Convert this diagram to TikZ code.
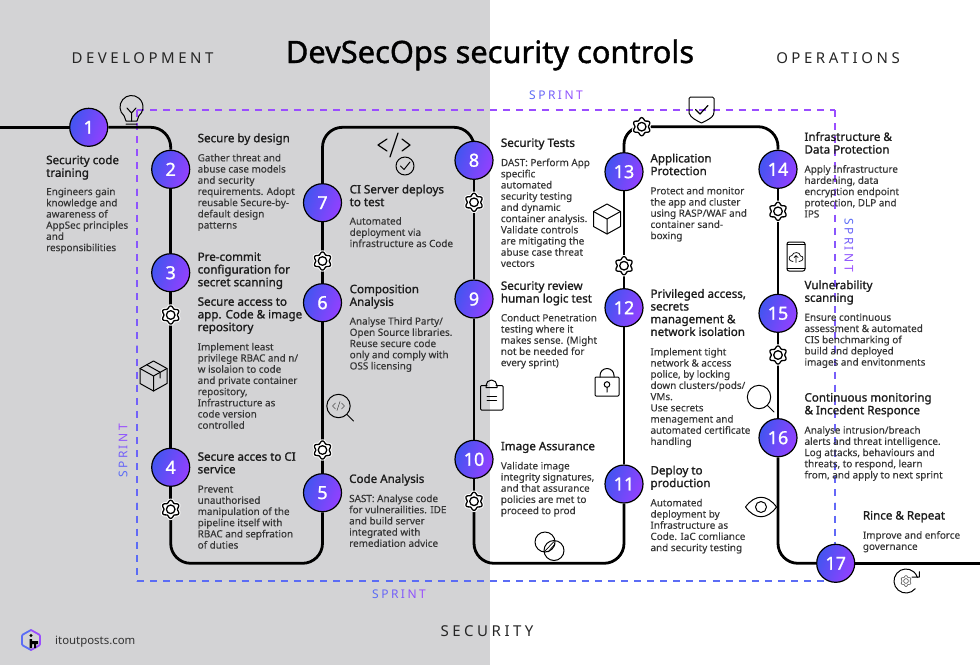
\documentclass[tikz,border=0pt]{standalone}
\usepackage{fontspec}
\setmainfont{Noto Sans}
\newfontfamily\spaced[LetterSpace=23.5]{Noto Sans}
\newfontfamily\headfont[FakeBold=1.3]{Noto Sans}
\newfontfamily\numfont[FakeBold=1.2]{Noto Sans}
\newfontfamily\bodyfont[FakeBold=.25]{Noto Sans}
\usetikzlibrary{backgrounds,calc}
\definecolor{panelgrey}{HTML}{D3D3D5}
\definecolor{stepblue}{HTML}{4255F0}
\definecolor{steppurple}{HTML}{9440FF}
\definecolor{sprintblue}{HTML}{5B6CF5}
\definecolor{sprintpurple}{HTML}{9A4DFF}
\definecolor{headink}{HTML}{1C1C1C}
\definecolor{bodyink}{HTML}{363636}
\newcommand{\sprintgap}{\kern2.5pt}
\newcommand{\sprintword}{\textcolor{sprintblue}{S}\sprintgap\textcolor{sprintblue!80!sprintpurple}{P}\sprintgap\textcolor{sprintblue!60!sprintpurple}{R}\sprintgap\textcolor{sprintblue!40!sprintpurple}{I}\sprintgap\textcolor{sprintblue!20!sprintpurple}{N}\sprintgap\textcolor{sprintpurple}{T}}
\newcommand{\gearpath}{plot[smooth cycle,samples=48,domain=0:352.5] (\x:{7.9-1.2*cos(6*\x)})}
\tikzset{
	pipe/.style={line width=2.8pt,black,rounded corners=20pt},
	sprintline/.style={line width=1.3pt,dash pattern=on 7pt off 6.08pt},
	stepnode/.style={circle,draw=black,line width=1.2pt,minimum size=38pt,inner sep=0pt,left color=stepblue,right color=steppurple,shading angle=70,text=white,font=\fontsize{18}{20}\numfont},
	gearnode/.style={circle,minimum size=17pt,inner sep=0pt},
	head/.style={anchor=north west,inner sep=0pt,align=left,text=headink,yshift=8.9pt,font=\fontsize{11.6}{12.7}\headfont,execute at begin node=\strut},
	body/.style={anchor=north west,inner sep=0pt,align=left,text=bodyink,yshift=7.4pt,font=\fontsize{9.9}{11.2}\bodyfont,execute at begin node=\strut},
	zone/.style={text=black!85,font=\fontsize{15}{18}\spaced},
	sprintlabel/.style={font=\fontsize{12}{14}\selectfont},
	gearicon/.pic={
		\draw[white,line width=3.4pt] \gearpath;
		\draw[black,line width=1.3pt,fill=white] \gearpath;
		\draw[black,line width=1.3pt] (0,0) circle[radius=4.3];
	},
	bulbicon/.pic={
		\draw (130:11.5) arc[start angle=130,delta angle=280,radius=11.5] -- (5.5,14) -- (-5.5,14) -- cycle;
		\draw (-5.5,17) -- (5.5,17) (0,14) -- (0,6) -- (-4.5,1) (0,6) -- (4.5,1);
	},
	cubeicon/.pic={
		\draw (0,-15) -- (13.5,-7.5) -- (13.5,7.5) -- (0,15) -- (-13.5,7.5) -- (-13.5,-7.5) -- cycle;
		\draw (-13.5,-7.5) -- (0,0) -- (13.5,-7.5) (0,0) -- (0,15);
	},
	tapeicon/.pic={
		\draw (-6.7,-11.2) -- (6.7,-3.7) -- (6.7,2);
	},
	codeicon/.pic={
		\draw[line width=1.2pt] (-7,-6) -- (-16,0) -- (-7,6) (8,-6) -- (16,0) -- (8,6) (4,-12) -- (-4,12);
		\draw (11,21) circle[radius=9] (6.5,21) -- (10,24.5) -- (16,17);
	},
	lensicon/.pic={
		\draw (0,0) circle[radius=11.7] (8.3,8.3) -- (15,15);
	},
	tinycode/.pic={
		\draw[line width=.6pt,black!70] (-3,-3) -- (-6,0) -- (-3,3) (3,-3) -- (6,0) -- (3,3) (1.5,-4.5) -- (-1.5,4.5);
	},
	clipicon/.pic={
		\draw[rounded corners=1pt] (-4.5,-11.5) -- (-11,-11.5) -- (-11,13) -- (11.5,13) -- (11.5,-11.5) -- (4.5,-11.5);
		\draw (-5.5,-9.5) -- (-5.5,-11.5) arc[start angle=180,delta angle=180,radius=5.5] -- (5.5,-9.5) -- cycle;
		\draw (-4.5,-1) -- (5,-1) (-4.5,3) -- (5,3);
	},
	ringsicon/.pic={
		\draw (0,0) circle[radius=10] (9,8.5) circle[radius=10];
		\draw[line width=.7pt] (-.5,9.5) -- (9,-.5) (3,10) -- (10,2);
	},
	lockicon/.pic={
		\draw[rounded corners=1pt] (-12,-9.5) rectangle (12,9.5);
		\draw (-7,-9.5) -- (-7,-11) arc[start angle=180,delta angle=180,radius=7] -- (7,-9.5);
		\draw (0,-2) circle[radius=2.8] (0,.8) -- (0,5.5);
	},
	shieldicon/.pic={
		\draw[rounded corners=1.5pt] (-12.5,-13) -- (12.5,-13) -- (12.5,3) [sharp corners] .. controls (11,8) and (4,11) .. (0,13) .. controls (-4,11) and (-11,8) .. (-12.5,3) [rounded corners=1.5pt] -- cycle;
		\draw[line width=1.2pt] (-6,-.5) -- (-1.5,4) -- (6.5,-4.5);
	},
	phoneicon/.pic={
		\draw[rounded corners=2pt] (-9,-14.5) rectangle (9,14.5);
		\draw (-9,-12) -- (9,-12) (-9,12) -- (9,12);
		\draw[line width=.7pt] (-3,5) .. controls (-8,5) and (-8,-1) .. (-4,-1) .. controls (-3,-5) and (4,-5) .. (4.5,-.5) .. controls (8,-1) and (8,5) .. (3,5) (0,6) -- (0,-1) (-2,1) -- (0,-1) -- (2,1);
	},
	eyeicon/.pic={
		\draw (-15.5,0) .. controls (-6,-13) and (6,-13) .. (15.5,0) .. controls (6,13) and (-6,13) .. (-15.5,0) -- cycle;
		\draw (0,0) circle[radius=5.5];
	},
	cycleicon/.pic={
		\draw (40:12) arc[start angle=40,delta angle=302,radius=12] -- (13.3,-4) -- (13.3,-9.3) (13.3,-4) -- (6,-4);
		\draw[line width=.6pt,black!70,scale=.6] \gearpath;
		\draw[line width=.6pt,black!70] (0,0) circle[radius=2.4];
	},
}
\begin{document}
\begin{tikzpicture}[x=1pt,y=-1pt,line join=round,line cap=round]
	\useasboundingbox (0,0) rectangle (980,665);
	
	\coordinate (in) at (0,127.3);
	\coordinate (out) at (980,563.3);
	\coordinate (tl) at (137,110);
	\coordinate (tr) at (835,110);
	\coordinate (bl) at (137,581);
	\coordinate (br) at (835,581);
	\foreach \n/\gx/\gy in {1/88.7/127.3,2/170.7/169.3,3/170.7/272.7,4/170.7/467.3,5/322.5/492.7,6/322.5/302.7,7/322.5/202.7,8/474/160.3,9/474/299,10/474/459.3,11/624/484,12/624/307.7,13/624/171.7,14/778/169.3,15/778/313.3,16/778/437.7,17/835.7/563.3}
		\node[stepnode] (s\n) at (\gx,\gy) {\n};
	\foreach \n/\gx/\gy in {3/170.7/315,4/170.7/509.3,5/322.5/450,6/322.5/261,8/474/202.3,10/474/501.3,12/624/265.7,13/641.7/126.7,14/778/211.3,15/778/355}{
		\node[gearnode] (g\n) at (\gx,\gy) {};
		\pic at (g\n) {gearicon};
	}
	
	\begin{scope}[on background layer]
		\fill[panelgrey] (0,0) rectangle (490,665);
		\foreach \k in {0,...,11}{
			\pgfmathtruncatemacro{\mix}{100-\k*100/11}
			\draw[sprintline,sprintpurple!\mix!sprintblue] ($(tl)!\k/12!(bl)$) -- ($(tl)!{(\k+1)/12}!(bl)$);
			\draw[sprintline,sprintpurple!\mix!sprintblue] ($(tr)!\k/12!(br)$) -- ($(tr)!{(\k+1)/12}!(br)$);
		}
		\draw[sprintline,sprintpurple] (tl) -- (tr);
		\draw[sprintline,sprintblue] (bl) -- (br);
		\draw[pipe] (in) -- (s1);
		\draw[pipe] (s1) -- (s2 |- s1) -- (s2);
		\draw[pipe] (g4) -- (g4 |- s17) -- (s5 |- s17) -- (s5);
		\draw[pipe] (s7) -- (s7 |- s1) -- (s8 |- s1) -- (s8);
		\draw[pipe] (g10) -- (g10 |- s17) -- (s11 |- s17) -- (s11);
		\draw[pipe,rounded corners=18pt] (s13) -- (s13 |- g13) -- (g13);
		\draw[pipe] (g13) -- (s14 |- g13) -- (s14);
		\draw[pipe] (s16) -- (s16 |- s17) -- (s17);
		\draw[pipe] (s17) -- (out);
		\foreach \a/\b in {s2/s3,s3/g3,g3/s4,s4/g4,s5/g5,g5/s6,s6/g6,g6/s7,s8/g8,g8/s9,s9/s10,s10/g10,s11/s12,s12/g12,g12/s13,s14/g14,g14/s15,s15/g15,g15/s16}
			\draw[pipe] (\a) -- (\b);
	\end{scope}
	
	\node[anchor=base,font=\fontsize{30.8}{34}\headfont,text=black] (title) at (490,63) {DevSecOps security controls};
	\node[zone] (dev) at (142.5,58) {DEVELOPMENT};
	\node[zone] (ops) at (838,58) {OPERATIONS};
	\node[zone] (sec) at (487,631.5) {SECURITY};
	\node[sprintlabel] (sprinta) at (556,95) {\sprintword};
	\node[sprintlabel] (sprintb) at (399,594) {\sprintword};
	\node[sprintlabel,rotate=90] (sprintc) at (123,451) {\sprintword};
	\node[sprintlabel,rotate=-90] (sprintd) at (849,245) {\sprintword};
	
	\node[head] (h1) at (46,164) {Security code\\training};
	\node[body] (b1) at (46,195) {Engineers gain\\knowledge and\\awareness of\\AppSec principles\\and\\responsibilities};
	\node[head] (h2) at (197.5,142) {Secure by design};
	\node[body] (b2) at (197.5,161) {Gather threat and\\abuse case models\\and security\\requirements. Adopt\\reusable Secure-by-\\default design\\patterns};
	\node[head] (h3) at (197.5,261) {Pre-commit\\configuration for\\secret scanning};
	\node[head] (h3b) at (197.5,306) {Secure access to\\app. Code \& image\\repository};
	\node[body] (b3) at (197.5,350) {Implement least\\privilege RBAC and n/\\w isolaion to code\\and private container\\repository,\\Infrastructure as\\code version\\controlled};
	\node[head] (h4) at (197.5,461) {Secure acces to CI\\service};
	\node[body] (b4) at (197.5,492.7) {Prevent\\unauthorised\\manipulation of the\\pipeline itself with\\RBAC and sepfration\\of duties};
	\node[head] (h5) at (349,482.7) {Code Analysis};
	\node[body] (b5) at (349,501.7) {SAST: Analyse code\\for vulnerailities. IDE\\and build server\\integrated with\\remediation advice};
	\node[head] (h6) at (349.5,293.3) {Composition\\Analysis};
	\node[body] (b6) at (349.5,324.3) {Analyse Third Party/\\Open Source libraries.\\Reuse secure code\\only and comply with\\OSS licensing};
	\node[head] (h7) at (349.5,193.3) {CI Server deploys\\to test};
	\node[body] (b7) at (349.5,224.3) {Automated\\deployment via\\infrastructure as Code};
	\node[head] (h8) at (500.7,146.7) {Security Tests};
	\node[body] (b8) at (500.7,165.7) {DAST: Perform App\\specific\\automated\\security testing\\and dynamic\\container analysis.\\Validate controls\\are mitigating the\\abuse case threat\\vectors};
	\node[head] (h9) at (500.7,290) {Security review\\human logic test};
	\node[body] (b9) at (500.7,321) {Conduct Penetration\\testing where it\\makes sense. (Might\\not be needed for\\every sprint)};
	\node[head] (h10) at (500.7,450) {Image Assurance};
	\node[body] (b10) at (500.7,469) {Validate image\\integrity signatures,\\and that assurance\\policies are met to\\proceed to prod};
	\node[head] (h11) at (650.3,474.3) {Deploy to\\production};
	\node[body] (b11) at (650.3,506) {Automated\\deployment by\\Infrastructure as\\Code. IaC comliance\\and security testing};
	\node[head] (h12) at (650.3,297.7) {Privileged access,\\secrets\\management \&\\network isolation};
	\node[body] (b12) at (650.3,355) {Implement tight\\network \& access\\police, by locking\\down clusters/pods/\\VMs.\\Use secrets\\menagement and\\automated certificate\\handling};
	\node[head] (h13) at (650.3,162.3) {Application\\Protection};
	\node[body] (b13) at (650.3,194) {Protect and monitor\\the app and cluster\\using RASP/WAF and\\container sand-\\boxing};
	\node[head] (h14) at (804.3,140.7) {Infrastructure \&\\Data Protection};
	\node[body] (b14) at (804.3,172.3) {Apply Infrastructure\\hardening, data\\encryption endpoint\\protection, DLP and\\IPS};
	\node[head] (h15) at (804.3,289) {Vulnerability\\scanning};
	\node[body] (b15) at (804.3,320.7) {Ensure continuous\\assessment \& automated\\CIS benchmarking of\\build and deployed\\images and envitonments};
	\node[head] (h16) at (804.3,401.7) {Continuous monitoring\\\& Incedent Responce};
	\node[body] (b16) at (804.3,433.3) {Analyse intrusion/breach\\alerts and threat intelligence.\\Log attacks, behaviours and\\threats, to respond, learn\\from, and apply to next sprint};
	\node[head] (h17) at (862.7,519.3) {Rince \& Repeat};
	\node[body] (b17) at (862.7,538.3) {Improve and enforce\\governance};
	
	\pic[line width=1pt] at (131.5,107) {bulbicon};
	\pic[line width=1pt] at (153.5,376) {cubeicon};
	\pic[line width=1pt] at (153.5,376) {tapeicon};
	\pic[line width=1pt] at (394,145) {codeicon};
	\pic[line width=1pt] at (338.5,406) {lensicon};
	\pic at (338.5,406) {tinycode};
	\pic[line width=1pt] at (491.5,397) {clipicon};
	\pic[line width=1pt] at (545,542) {ringsicon};
	\pic[line width=1pt] at (607,386.5) {lockicon};
	\pic[line width=1pt] at (607,219) {cubeicon};
	\pic[line width=1pt] at (701.5,110) {shieldicon};
	\pic[line width=1pt] at (796,256.5) {phoneicon};
	\pic[line width=1pt] at (759,397) {lensicon};
	\pic[line width=1pt] at (761,507) {eyeicon};
	\pic[line width=1pt] at (906,581) {cycleicon};
	
	\draw[line width=1.8pt,sprintblue,rounded corners=1pt] (31,630) -- (22,635) -- (22,645) -- (31,650);
	\draw[line width=1.8pt,sprintpurple,rounded corners=1pt] (31,630) -- (40,635) -- (40,645) -- (31,650);
	\fill[black] (31,635.5) circle[radius=1.6];
	\fill[black] (29.5,639) rectangle (32,648) (32,641) rectangle (38,644) (34,644) rectangle (36,648);
	\node[anchor=base west,inner sep=0pt,text=black!80,font=\fontsize{11.4}{15}\selectfont] (site) at (55,644) {itoutposts.com};
\end{tikzpicture}
\end{document}
